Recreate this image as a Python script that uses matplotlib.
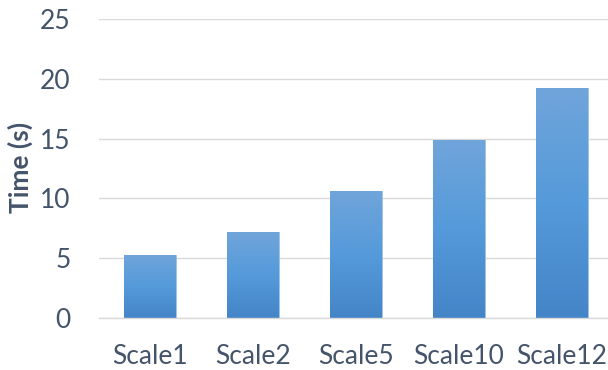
import numpy as np
import matplotlib
matplotlib.use("Agg")
import matplotlib.pyplot as plt
from matplotlib.colors import LinearSegmentedColormap

categories = ["Scale1", "Scale2", "Scale5", "Scale10", "Scale12"]
times = [5.3, 7.15, 10.6, 14.9, 19.25]
y_ticks = [0, 5, 10, 15, 20, 25]

plt.rcParams['font.family'] = ['Lato', 'DejaVu Sans']
text_color = "#44546A"

fig = plt.figure(figsize=(6.08, 3.70), dpi=100)
ax = fig.add_axes([98.5 / 608, 52 / 370, 515 / 608, 299 / 370])

x = np.arange(len(categories))
bars = ax.bar(x, times, width=0.5, color="#5b9bd5", edgecolor="#9dc3e6", linewidth=0.6, zorder=2)

cmap = LinearSegmentedColormap.from_list("g", ["#4485c8", "#559ada", "#70a5da"])
grad = np.linspace(0, 1, 256).reshape(-1, 1)
for b in bars:
    x0, y0 = b.get_x(), b.get_y()
    w, h = b.get_width(), b.get_height()
    im = ax.imshow(grad, cmap=cmap, origin="lower", aspect="auto",
                   extent=[x0, x0 + w, y0, y0 + h], zorder=2.5)
    im.set_clip_path(b)

ax.set_xlim(-0.5, len(categories) - 0.5)
ax.set_ylim(0, 25)
ax.set_yticks(y_ticks)
ax.set_xticks(x)
ax.set_xticklabels(categories)
ax.yaxis.grid(True, color="#d9d9d9", linewidth=1.0, zorder=0)
ax.set_axisbelow(True)
for s in ["top", "right", "left"]:
    ax.spines[s].set_visible(False)
ax.spines["bottom"].set_color("#d9d9d9")
ax.spines["bottom"].set_linewidth(1.0)
ax.tick_params(axis="both", length=0, labelsize=19, labelcolor=text_color)
ax.tick_params(axis="x", pad=19)
ax.tick_params(axis="y", pad=20)
ax.set_ylabel("Time (s)", fontsize=19, fontweight="bold", color=text_color)
ax.yaxis.set_label_coords(-0.128, 0.505)

fig.savefig("out.png", dpi=100)
